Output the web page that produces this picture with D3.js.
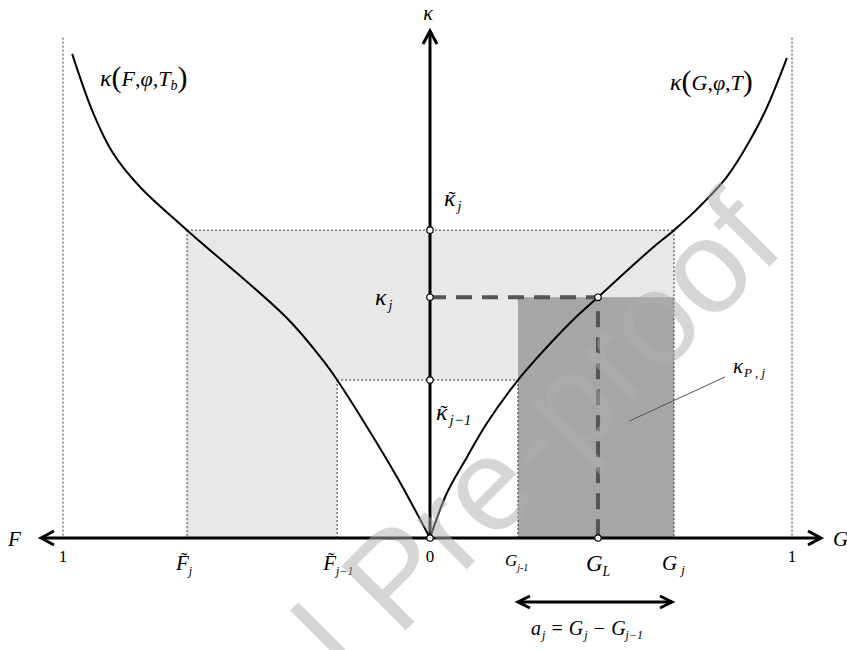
<!DOCTYPE html>
<html>
<head>
<meta charset="utf-8">
<script src="https://cdn.jsdelivr.net/npm/d3@7"></script>
<style>
body{margin:0;background:#fff;}
svg{display:block;}
</style>
</head>
<body>
<div id="chart"></div>
<script>
"use strict"

// curve kappa(F,phi,Tb) on the left half (F runs to the left)
const leftF=[0,0.09,0.172,0.253,0.292,0.39,0.662,0.79,0.864,0.918,0.975];
const leftK=[0,0.12,0.219,0.311,0.35,0.433,0.606,0.691,0.758,0.837,0.953];
// curve kappa(G,phi,T) on the right half
const rightG=[0,0.047,0.102,0.157,0.243,0.29,0.395,0.464,0.608,0.674,0.727,0.82,0.884,0.931,0.986];
const rightK=[0,0.089,0.159,0.226,0.311,0.35,0.429,0.474,0.567,0.606,0.64,0.711,0.783,0.848,0.945];

// levels on the kappa axis: kappa~_{j-1}, kappa_j, kappa~_j
const kappaLevels=[0.311,0.474,0.606];
// F~_{j-1}, F~_j
const fMarks=[0.253,0.662];
// G_{j-1}, G_L, G_j
const gMarks=[0.243,0.464,0.674];

const W=847,H=650;
const serif='"Liberation Serif","Times New Roman",serif';

const svg=d3.select("#chart").append("svg").attr("width",W).attr("height",H);

const yK=d3.scaleLinear().domain([0,1]).range([538,30]);
const xF=d3.scaleLinear().domain([0,1]).range([430,63]);
const xG=d3.scaleLinear().domain([0,1]).range([430,792]);

const x0=xG(0),y0=yK(0);
const [kLow,kMid,kHigh]=kappaLevels;
const [fLow,fHigh]=fMarks;
const [gLow,gL,gHigh]=gMarks;

// light grey region
const lightPts=[
  [xF(fHigh),yK(kHigh)],[xG(gHigh),yK(kHigh)],[xG(gHigh),yK(kLow)],
  [xF(fLow),yK(kLow)],[xF(fLow),y0],[xF(fHigh),y0]
];
svg.append("polygon").attr("points",lightPts.map(p=>p.join(",")).join(" ")).attr("fill","#e8e8e8");

// dark rect for kappa_P,j
svg.append("rect")
  .attr("x",xG(gLow)).attr("y",yK(kMid))
  .attr("width",xG(gHigh)-xG(gLow)).attr("height",y0-yK(kMid))
  .attr("fill","#a6a6a6");

// dotted guide lines
const dotted=[
  [xF(1),yK(0.985),xF(1),y0],
  [xG(1),yK(0.985),xG(1),y0],
  [xF(fHigh),yK(kHigh),xG(gHigh),yK(kHigh)],
  [xF(fLow),yK(kLow),xG(gLow),yK(kLow)],
  [xF(fHigh),yK(kHigh),xF(fHigh),y0],
  [xF(fLow),yK(kLow),xF(fLow),y0],
  [xG(gLow),yK(kLow),xG(gLow),y0],
  [xG(gHigh),yK(kHigh),xG(gHigh),y0]
];
svg.selectAll(".dot-line").data(dotted).enter().append("line")
  .attr("class","dot-line")
  .attr("x1",d=>d[0]).attr("y1",d=>d[1]).attr("x2",d=>d[2]).attr("y2",d=>d[3])
  .attr("stroke","#333").attr("stroke-width",1).attr("stroke-dasharray","2,2");

// leader for kappa_P,j
svg.append("line").attr("x1",xG(0.55)).attr("y1",yK(0.23)).attr("x2",xG(0.815)).attr("y2",yK(0.317))
  .attr("stroke","#555").attr("stroke-width",1);

// curves
const line=d3.line().curve(d3.curveCatmullRom.alpha(0.5));
svg.append("path").attr("d",line(leftF.map((f,i)=>[xF(f),yK(leftK[i])])))
  .attr("fill","none").attr("stroke","#000").attr("stroke-width",2);
svg.append("path").attr("d",line(rightG.map((g,i)=>[xG(g),yK(rightK[i])])))
  .attr("fill","none").attr("stroke","#000").attr("stroke-width",2);

// dashed kappa_j -> G_L
svg.append("path")
  .attr("d",`M${x0},${yK(kMid)}H${xG(gL)}V${y0}`)
  .attr("fill","none").attr("stroke","#555").attr("stroke-width",4).attr("stroke-dasharray","16,10");

// axes
const axisG=svg.append("g").attr("stroke","#000").attr("fill","none").attr("stroke-width",3);
axisG.append("line").attr("x1",41).attr("y1",y0).attr("x2",821).attr("y2",y0);
axisG.append("line").attr("x1",x0).attr("y1",y0).attr("x2",x0).attr("y2",31);
axisG.append("path").attr("d",`M54,${y0-7}L41,${y0}L54,${y0+7}`);
axisG.append("path").attr("d",`M808,${y0-7}L821,${y0}L808,${y0+7}`);
axisG.append("path").attr("d",`M${x0-7},44L${x0},31L${x0+7},44`);
// double arrow under a_j
axisG.append("line").attr("x1",xG(gLow)).attr("y1",602).attr("x2",xG(gHigh)-2).attr("y2",602);
axisG.append("path").attr("d",`M${xG(gLow)+12},${596}L${xG(gLow)},602L${xG(gLow)+12},608`);
axisG.append("path").attr("d",`M${xG(gHigh)-14},${596}L${xG(gHigh)-2},602L${xG(gHigh)-14},608`);

// open points
const pts=[[x0,yK(kHigh)],[x0,yK(kMid)],[x0,yK(kLow)],[x0,y0],[xG(gL),yK(kMid)],[xG(gL),y0]];
svg.selectAll(".pt").data(pts).enter().append("circle").attr("class","pt")
  .attr("cx",d=>d[0]).attr("cy",d=>d[1]).attr("r",3.2)
  .attr("fill","#fff").attr("stroke","#000").attr("stroke-width",1.2);

// text helper: segments [text, {size, italic, dy, dx}]
function label(x,y,segs,anchor){
  const t=svg.append("text").attr("x",x).attr("y",y)
    .style("font-family",serif)
    .attr("text-anchor",anchor||"start").attr("fill","#000");
  segs.forEach(s=>{
    const o=s[1]||{};
    const ts=t.append("tspan").text(s[0])
      .style("font-family",serif)
      .style("font-size",(o.size||20)+"px")
      .style("font-style",o.italic===false?"normal":"italic");
    if(o.dy) ts.attr("dy",o.dy);
    if(o.dx) ts.attr("dx",o.dx);
  });
  return t;
}
function tilde(x,y,size){
  svg.append("text").attr("x",x).attr("y",y)
    .style("font-family",serif).style("font-size",(size||18)+"px")
    .attr("text-anchor","middle").text("\u02DC");
}

// kappa axis title
label(x0-2,20,[["\u03BA",{size:20}]],"middle");
// axis names
label(8,546,[["F",{size:21}]]);
label(833,546,[["G",{size:21}]]);
// 0 and 1 ticks
label(xF(1),562,[["1",{size:17,italic:false}]],"middle");
label(xG(1),562,[["1",{size:17,italic:false}]],"middle");
label(x0,562,[["0",{size:17,italic:false}]],"middle");

// F ticks
label(xF(fHigh)-11,570,[["F",{size:21}],["j",{size:12,dy:5}]]);
tilde(xF(fHigh)-3,567,20);
label(xF(fLow)-14,570,[["F",{size:21}],["j\u22121",{size:12,dy:5}]]);
tilde(xF(fLow)-6,567,20);

// G ticks
label(xG(gLow)-13,566,[["G",{size:17}],["j-1",{size:10,dy:5}]]);
label(xG(gL)-12,571,[["G",{size:23}],["L",{size:14,dy:5}]]);
label(xG(gHigh)-12,570,[["G",{size:21}],["j",{size:13,dy:4,dx:4}]]);

// a_j = G_j - G_{j-1}
label(531,635,[["a",{size:20}],["j",{size:12,dy:4,dx:1}],[" = G",{size:20,dy:-4}],["j",{size:12,dy:4,dx:1}],[" \u2212 G",{size:20,dy:-4}],["j\u22121",{size:12,dy:4}]]);

// kappa labels
label(444,206,[["\u03BA",{size:24}],["j",{size:14,dy:5,dx:2}]]);
tilde(452,206,22);
label(375,305,[["\u03BA",{size:24}],["j",{size:14,dy:5,dx:2}]]);
label(436,420,[["\u03BA",{size:24}],["j\u22121",{size:15,dy:5,dx:2}]]);
tilde(444,420,22);
label(733,373,[["\u03BA",{size:21}],["P , j",{size:13,dy:4,dx:1}]]);

// curve titles
label(100,86,[["\u03BA",{size:24}],["(",{size:30,italic:false,dy:1}],["F",{size:22,dy:-1}],[",",{size:22,italic:false}],["\u03C6",{size:22}],[",",{size:22,italic:false}],["T",{size:22}],["b",{size:14,dy:4}],[")",{size:30,italic:false,dy:-3}]]);
label(670,90,[["\u03BA",{size:24}],["(",{size:30,italic:false,dy:1}],["G",{size:22,dy:-1}],[",",{size:22,italic:false}],["\u03C6",{size:22}],[",",{size:22,italic:false}],["T",{size:22}],[")",{size:30,italic:false,dy:1}]]);

// watermark
svg.append("text")
  .attr("transform","translate(66,970) rotate(-45)")
  .style("font-family",'"Liberation Sans",Arial,sans-serif')
  .style("font-size","132px")
  .attr("fill","#adadad").attr("fill-opacity",0.5)
  .text("Journal Pre-proof");
</script>
</body>
</html>
